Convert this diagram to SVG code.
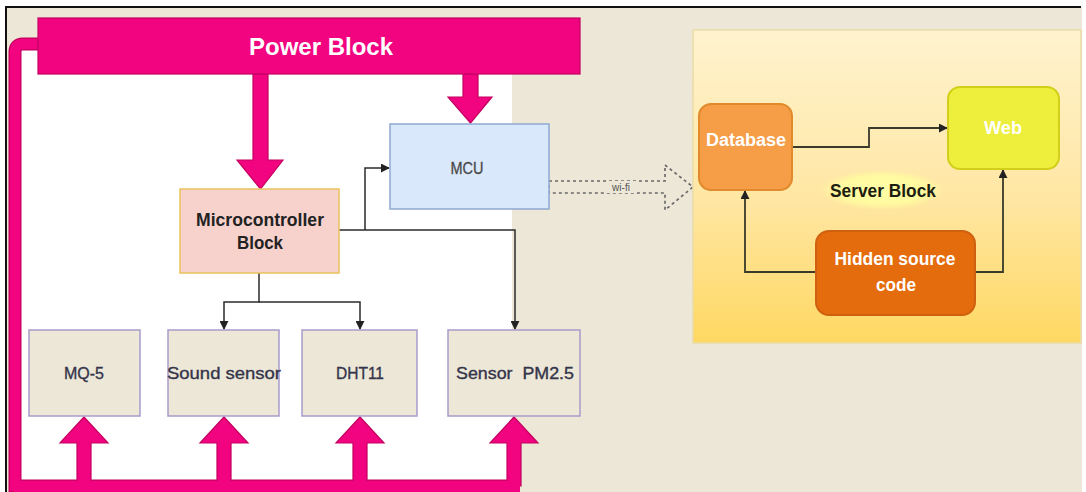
<svg xmlns="http://www.w3.org/2000/svg" width="1086" height="492" viewBox="0 0 1086 492">
  <defs>
    <linearGradient id="srvGrad" x1="0" y1="0" x2="0" y2="1">
      <stop offset="0" stop-color="#fff3cf"/>
      <stop offset="0.55" stop-color="#ffe6a2"/>
      <stop offset="1" stop-color="#ffd862"/>
    </linearGradient>
    <radialGradient id="glow" cx="0.5" cy="0.5" r="0.5">
      <stop offset="0" stop-color="#ffffa8"/>
      <stop offset="0.7" stop-color="#ffff9e" stop-opacity="0.8"/>
      <stop offset="1" stop-color="#ffff9e" stop-opacity="0"/>
    </radialGradient>
    <marker id="arr" viewBox="0 0 10 10" refX="9" refY="5" markerWidth="9" markerHeight="9" markerUnits="userSpaceOnUse" orient="auto">
      <path d="M0,0 L10,5 L0,10 z" fill="#222"/>
    </marker>
    <style>
      .pink { fill: #f2037f; stroke: #c4005f; stroke-width: 1.2; }
      .sensor { fill: #ece7d7; stroke: #a99bcb; stroke-width: 1.5; }
      .slabel { font-family: "Liberation Sans", Arial, sans-serif; font-size: 17px; fill: #34344a; stroke: #34344a; stroke-width: 0.35; text-anchor: middle; }
      .wlabel { font-family: "Liberation Sans", Arial, sans-serif; font-weight: bold; fill: #ffffff; text-anchor: middle; }
      .conn { fill: none; stroke: #2b2b2b; stroke-width: 1.5; marker-end: url(#arr); }
      .sconn { fill: none; stroke: #3a3a2a; stroke-width: 1.8; marker-end: url(#arr); }
    </style>
  </defs>

  <!-- background & frame -->
  <rect x="0" y="0" width="1086" height="492" fill="#ffffff"/>
  <rect x="6" y="7" width="1076" height="485" fill="#ece7d7"/>
  <rect x="12" y="48" width="500" height="444" fill="#ffffff"/>
  <line x1="5" y1="7" x2="1081" y2="7" stroke="#111" stroke-width="2"/>
  <line x1="6" y1="6" x2="6" y2="492" stroke="#111" stroke-width="2"/>

  <!-- connectors -->
  <g id="connectors">
    <!-- pink power rail -->
    <path d="M40,44 H23 Q15,44 15,52 V486 H520" fill="none" stroke="#c4005f" stroke-width="13"/>
    <path d="M40,44 H23 Q15,44 15,52 V486 H520" fill="none" stroke="#f2037f" stroke-width="10.5"/>
    <!-- power to microcontroller -->
    <polygon class="pink" points="253,74 268,74 268,160 283,160 260.5,189 237,160 253,160"/>
    <!-- power to MCU -->
    <polygon class="pink" points="463,74 478,74 478,97 492,97 470.5,123 448,97 463,97"/>
    <!-- up arrows to sensors -->
    <polygon class="pink" points="77,486 77,443 60,443 84,417 108,443 91,443 91,486"/>
    <polygon class="pink" points="217,486 217,443 200,443 224,417 248,443 231,443 231,486"/>
    <polygon class="pink" points="353,486 353,443 336,443 360,417 384,443 367,443 367,486"/>
    <polygon class="pink" points="507,486 507,443 490,443 514,417 538,443 521,443 521,486"/>
    <rect x="14" y="481" width="506" height="11" fill="#f2037f"/>

    <!-- thin connectors -->
    <path class="conn" d="M339,230 H515 V329"/>
    <path class="conn" d="M365,230 V168 H389"/>
    <path class="conn" d="M259,273 V302 H224 V329"/>
    <path class="conn" d="M259,302 H360 V329"/>

    <!-- wi-fi dotted block arrow -->
    <polygon points="549,181 665,181 665,165 693,187 665,210 665,193 549,193" fill="none" stroke="#6a6a6a" stroke-width="1.7" stroke-dasharray="3,3"/>
    <rect x="606" y="181" width="31" height="12" fill="#ece7d7"/>
    <text x="621" y="191" font-family="'Liberation Sans', Arial, sans-serif" font-size="10" fill="#555" text-anchor="middle">wi-fi</text>
  </g>

  <!-- Power Block -->
  <g id="power-block">
    <rect x="38" y="18" width="542" height="56" fill="#f2037f" stroke="#c4005f" stroke-width="1.2"/>
    <text x="321" y="55" class="wlabel" font-size="24" textLength="144" lengthAdjust="spacingAndGlyphs">Power Block</text>
  </g>

  <!-- Microcontroller Block -->
  <g id="microcontroller-block">
    <rect x="180" y="189" width="159" height="84" fill="#f7d2cd" stroke="#e9c25a" stroke-width="1.5"/>
    <text x="260" y="226" font-family="'Liberation Sans', Arial, sans-serif" font-weight="bold" font-size="18" fill="#222" text-anchor="middle" textLength="128" lengthAdjust="spacingAndGlyphs">Microcontroller</text>
    <text x="260" y="249" font-family="'Liberation Sans', Arial, sans-serif" font-weight="bold" font-size="18" fill="#222" text-anchor="middle" textLength="46" lengthAdjust="spacingAndGlyphs">Block</text>
  </g>

  <!-- MCU -->
  <g id="mcu">
    <rect x="390" y="124" width="159" height="85" fill="#dae8fc" stroke="#8ea9cf" stroke-width="1.5"/>
    <text x="467" y="174" font-family="'Liberation Sans', Arial, sans-serif" font-size="16" fill="#4a4a4a" stroke="#4a4a4a" stroke-width="0.3" text-anchor="middle" textLength="33" lengthAdjust="spacingAndGlyphs">MCU</text>
  </g>

  <!-- sensors -->
  <g id="mq5">
    <rect class="sensor" x="29" y="330" width="111" height="86"/>
    <text class="slabel" x="84" y="379" textLength="40" lengthAdjust="spacingAndGlyphs">MQ-5</text>
  </g>
  <g id="sound-sensor">
    <rect class="sensor" x="168" y="330" width="111" height="86"/>
    <text class="slabel" x="224" y="379" textLength="114" lengthAdjust="spacingAndGlyphs">Sound sensor</text>
  </g>
  <g id="dht11">
    <rect class="sensor" x="302" y="330" width="115" height="86"/>
    <text class="slabel" x="360" y="379" textLength="48" lengthAdjust="spacingAndGlyphs">DHT11</text>
  </g>
  <g id="sensor-pm25">
    <rect class="sensor" x="448" y="330" width="132" height="86"/>
    <text class="slabel" x="515" y="379" textLength="118" lengthAdjust="spacingAndGlyphs" xml:space="preserve">Sensor  PM2.5</text>
  </g>

  <!-- Server block -->
  <g id="server-block">
    <rect x="693" y="30" width="388" height="313" fill="url(#srvGrad)" stroke="#eadca8" stroke-width="1.5"/>
    <ellipse cx="882" cy="190" rx="62" ry="20" fill="url(#glow)"/>
    <text x="883" y="197" font-family="'Liberation Sans', Arial, sans-serif" font-weight="bold" font-size="19" fill="#1d1d10" text-anchor="middle" textLength="106" lengthAdjust="spacingAndGlyphs">Server Block</text>
  </g>
  <g id="server-connectors">
    <path class="sconn" d="M792,147 H869 V128 H947"/>
    <path class="sconn" d="M816,272 H745 V191"/>
    <path class="sconn" d="M975,272 H1003 V170"/>
  </g>
  <g id="database">
    <rect x="699" y="104" width="93" height="86" rx="12" fill="#f59d47" stroke="#e08a2c" stroke-width="2"/>
    <text x="746" y="146" class="wlabel" font-size="18" textLength="80" lengthAdjust="spacingAndGlyphs">Database</text>
  </g>
  <g id="web">
    <rect x="948" y="87" width="111" height="82" rx="12" fill="#eeee3c" stroke="#d2cf1a" stroke-width="2"/>
    <text x="1003" y="134" class="wlabel" font-size="18" textLength="38" lengthAdjust="spacingAndGlyphs">Web</text>
  </g>
  <g id="hidden-source-code">
    <rect x="816" y="231" width="159" height="84" rx="13" fill="#e56c0c" stroke="#cf6010" stroke-width="2"/>
    <text x="895" y="265" class="wlabel" font-size="19" textLength="121" lengthAdjust="spacingAndGlyphs">Hidden source</text>
    <text x="896" y="291" class="wlabel" font-size="19" textLength="40" lengthAdjust="spacingAndGlyphs">code</text>
  </g>
</svg>
